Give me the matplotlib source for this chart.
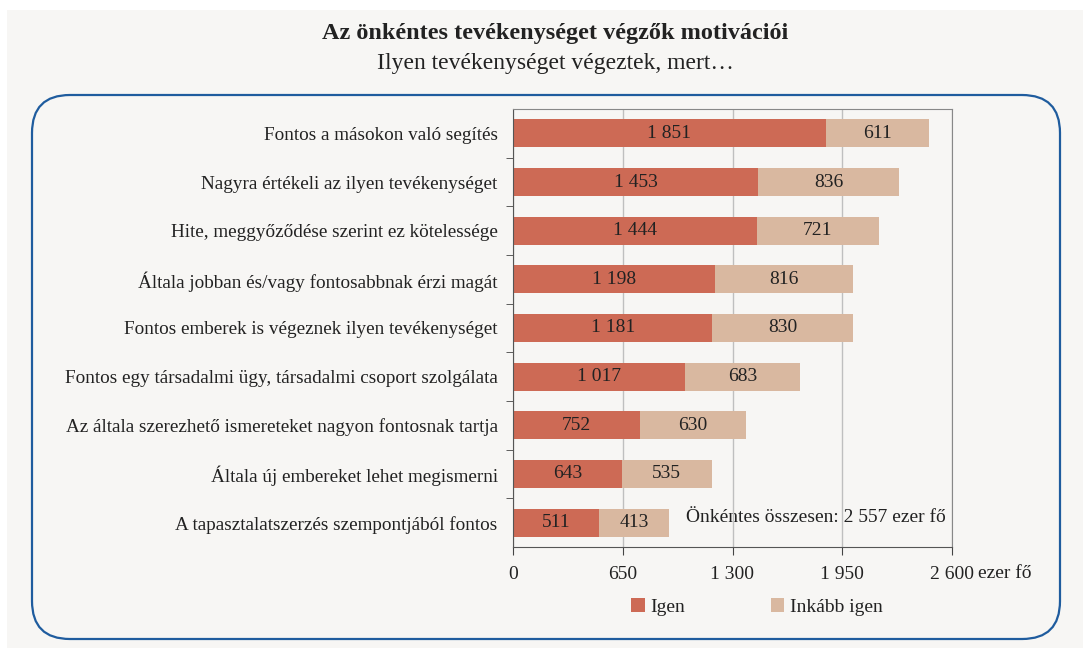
import matplotlib.pyplot as plt
from matplotlib.patches import FancyBboxPatch, Rectangle

# data (ezer fő)
categories = [
    "Fontos a másokon való segítés",
    "Nagyra értékeli az ilyen tevékenységet",
    "Hite, meggyőződése szerint ez kötelessége",
    "Általa jobban és/vagy fontosabbnak érzi magát",
    "Fontos emberek is végeznek ilyen tevékenységet",
    "Fontos egy társadalmi ügy, társadalmi csoport szolgálata",
    "Az általa szerezhető ismereteket nagyon fontosnak tartja",
    "Általa új embereket lehet megismerni",
    "A tapasztalatszerzés szempontjából fontos",
]
igen = [1851, 1453, 1444, 1198, 1181, 1017, 752, 643, 511]
inkabb_igen = [611, 836, 721, 816, 830, 683, 630, 535, 413]
xticks = [0, 650, 1300, 1950, 2600]

RED = "#cd6a55"
BEIGE = "#d9b8a0"
BG = "#f7f6f4"
TXT = "#222222"
FS = 14

plt.rcParams['font.family'] = ['Liberation Serif', 'DejaVu Serif']


def fmt(v):
    return f"{v:,}".replace(",", " ")


fig = plt.figure(figsize=(10.83, 6.48), dpi=100)
fig.patch.set_facecolor("white")

# background layer in pixel coordinates
bg = fig.add_axes([0, 0, 1, 1])
bg.set_xlim(0, 1083)
bg.set_ylim(648, 0)
bg.axis("off")
bg.add_patch(Rectangle((7, 10), 1076, 638, facecolor=BG, edgecolor="none"))
bg.add_patch(FancyBboxPatch((32, 95), 1028, 544,
                            boxstyle="round,pad=0,rounding_size=38",
                            facecolor="none", edgecolor="#1f5c9e", lw=1.6))
bg.text(555, 33, "Az önkéntes tevékenységet végzők motivációi", ha="center", va="center",
        fontsize=17.5, fontweight="bold", color=TXT)
bg.text(555, 63, "Ilyen tevékenységet végeztek, mert…", ha="center", va="center",
        fontsize=17, color=TXT)

ax = fig.add_axes([513 / 1083, 1 - 547 / 648, 439 / 1083, 438 / 648])
ax.set_facecolor("none")
y = list(range(len(categories)))
ax.barh(y, igen, height=0.58, color=RED, label="Igen")
ax.barh(y, inkabb_igen, left=igen, height=0.58, color=BEIGE, label="Inkább igen")
for i in y:
    ax.text(igen[i] / 2, i, fmt(igen[i]), ha="center", va="center", fontsize=FS, color=TXT)
    ax.text(igen[i] + inkabb_igen[i] / 2, i, fmt(inkabb_igen[i]), ha="center", va="center",
            fontsize=FS, color=TXT)

ax.set_ylim(len(categories) - 0.5, -0.5)
ax.set_xlim(0, 2600)
ax.set_yticks(y)
ax.set_yticklabels(categories, fontsize=13.8, color=TXT)
ax.set_yticks([i + 0.5 for i in y[:-1]], minor=True)
ax.tick_params(axis="y", which="major", length=0, pad=11)
ax.tick_params(axis="y", which="minor", length=5, color="#444444", direction="out")
ax.set_xticks(xticks)
ax.set_xticklabels([fmt(v) for v in xticks], fontsize=FS, color=TXT)
ax.tick_params(axis="x", length=6, color="#444444", pad=8)
ax.grid(axis="x", color="#bfbfbf", lw=1)
ax.set_axisbelow(True)
for s in ["top", "right"]:
    ax.spines[s].set_color("#888888")
for s in ["left", "bottom"]:
    ax.spines[s].set_color("#555555")

bg.text(978, 573, "ezer fő", ha="left", va="center", fontsize=FS, color=TXT)
bg.text(946, 517, "Önkéntes összesen: 2 557 ezer fő", ha="right", va="center",
        fontsize=FS, color=TXT)

fig.legend(loc="center", bbox_to_anchor=(757 / 1083, 1 - 607 / 648), ncol=2, frameon=False,
           fontsize=FS, handlelength=0.7, handleheight=0.7, handletextpad=0.3,
           columnspacing=4.4, labelcolor=TXT)

fig.savefig("out.png", dpi=100, facecolor=fig.get_facecolor())
